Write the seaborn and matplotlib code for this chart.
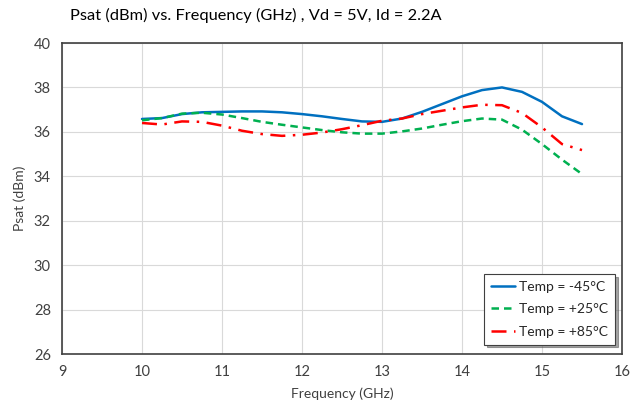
import matplotlib
matplotlib.use("Agg")
import matplotlib.pyplot as plt
import seaborn as sns
import pandas as pd

freq = [10.0, 10.25, 10.5, 10.75, 11.0, 11.25, 11.5, 11.75, 12.0, 12.25, 12.5, 12.75,
        13.0, 13.25, 13.5, 13.75, 14.0, 14.25, 14.5, 14.75, 15.0, 15.25, 15.5]
psat_m45 = [36.58, 36.62, 36.8, 36.88, 36.9, 36.92, 36.92, 36.88, 36.8, 36.7, 36.58, 36.47,
            36.45, 36.6, 36.9, 37.25, 37.6, 37.88, 38.0, 37.8, 37.35, 36.7, 36.35]
psat_p25 = [36.52, 36.62, 36.82, 36.86, 36.78, 36.62, 36.45, 36.32, 36.2, 36.08, 35.98, 35.92,
            35.92, 36.02, 36.15, 36.32, 36.48, 36.6, 36.55, 36.1, 35.45, 34.75, 34.1]
psat_p85 = [36.4, 36.33, 36.47, 36.45, 36.28, 36.05, 35.9, 35.82, 35.87, 35.97, 36.12, 36.3,
            36.5, 36.6, 36.8, 36.95, 37.1, 37.22, 37.2, 36.85, 36.2, 35.45, 35.18]
labels = ["Temp = -45°C", "Temp = +25°C", "Temp = +85°C"]
colors = ["#0070C0", "#00B050", "#FF0000"]

sns.set_theme(style="white")
plt.rcParams['font.family'] = ['Lato', 'DejaVu Sans']

fig = plt.figure(figsize=(6.44, 4.07), dpi=100)
ax = fig.add_axes([62/644, 1-354/407, 560/644, 311/407])

styles = ["-", (0, (3, 2)), (0, (6, 3, 1, 3))]
for vals, lab, col, ls in zip([psat_m45, psat_p25, psat_p85], labels, colors, styles):
    df = pd.DataFrame({"f": freq, "p": vals})
    sns.lineplot(data=df, x="f", y="p", ax=ax, color=col, linestyle=ls,
                 linewidth=1.8, label=lab)

ax.set_xlim(9, 16)
ax.set_ylim(26, 40)
ax.set_xticks(range(9, 17))
ax.set_yticks(range(26, 41, 2))
ax.grid(True, color="#D9D9D9", linewidth=0.8)
for s in ax.spines.values():
    s.set_color("#404040")
    s.set_linewidth(1.2)
ax.tick_params(axis="both", length=0, labelsize=10.5, colors="#404040", pad=8)
ax.set_xlabel("Frequency (GHz)", fontsize=10, color="#404040", labelpad=6)
ax.set_ylabel("Psat (dBm)", fontsize=10, color="#404040", labelpad=6)
fig.suptitle("Psat (dBm) vs. Frequency (GHz) , Vd = 5V, Id = 2.2A",
             fontsize=11.8, color="#000000", x=0.398, y=0.98)

leg = ax.legend(loc="lower right", bbox_to_anchor=(0.988, 0.03), fontsize=10,
                frameon=True, fancybox=False, shadow=True, borderpad=0.5,
                labelspacing=0.75, handlelength=1.7, handletextpad=0.3,
                borderaxespad=0.0)
leg.get_frame().set_edgecolor("#404040")
leg.get_frame().set_linewidth(0.8)

fig.savefig("out.png", dpi=100)
